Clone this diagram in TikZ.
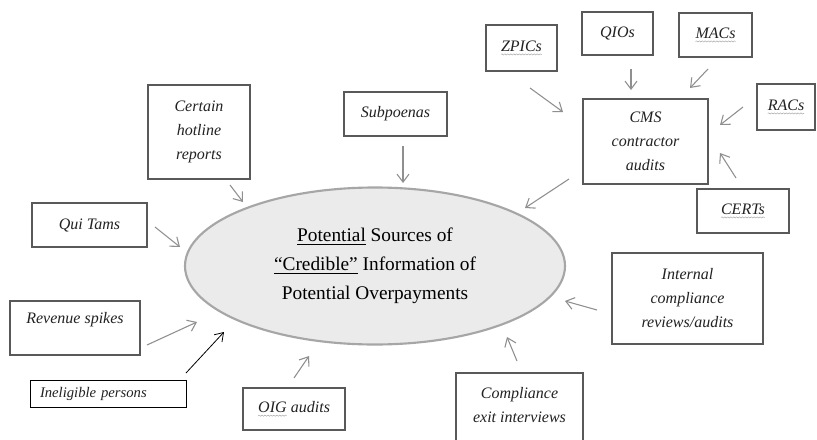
\documentclass[tikz,border=0pt]{standalone}
\usepackage{fontspec}
\setmainfont{Liberation Serif}
\usetikzlibrary{arrows.meta,shapes.geometric,decorations.pathmorphing}
\definecolor{boxline}{HTML}{595959}
\definecolor{ellfill}{HTML}{EBEBEB}
\definecolor{ellline}{HTML}{A6A6A6}
\definecolor{arrline}{HTML}{8F8F8F}
\definecolor{txt}{HTML}{222222}
\tikzset{
  squig/.style={decorate,decoration={snake,amplitude=0.45pt,segment length=2.2pt},draw=gray!70,line width=0.35pt},
}
\newcommand\sqg[1]{\tikz[baseline=(sqw.base),x=1cm,y=1cm]{\node[inner sep=0pt,outer sep=0pt,draw=none,minimum size=0pt](sqw){#1};\draw[squig] ([yshift=-2.3pt]sqw.base west) -- ([yshift=-2.3pt]sqw.base east);}}
\begin{document}
\begin{tikzpicture}[x=0.75pt,y=-0.75pt,
  srcbox/.style={draw=boxline,line width=2pt,fill=white,rectangle,inner sep=2pt,align=center,
     font=\fontsize{12pt}{18pt}\selectfont\itshape,text=txt},
  boxtxt/.style={inner sep=0pt,align=center,font=\fontsize{12pt}{18pt}\selectfont\itshape,text=txt},
  thinbox/.style={draw=black,line width=0.7pt,fill=white,rectangle,inner xsep=7.5pt,inner ysep=0pt,align=left,
     font=\fontsize{11pt}{13pt}\selectfont\itshape,text=txt},
  mainell/.style={ellipse,draw=ellline,line width=1.6pt,fill=ellfill,inner sep=0pt,align=center,
     font=\fontsize{14.5pt}{21.75pt}\selectfont,text=black},
  arr/.style={draw=arrline,line width=0.8pt,-{Straight Barb[length=6pt,width=9pt,line width=0.8pt]}},
  blackarr/.style={draw=black,line width=0.6pt,-{Straight Barb[length=6pt,width=8pt,line width=0.6pt]}},
]
\useasboundingbox[fill=white] (0,0) rectangle (817,439);

% central ellipse
\node[mainell,minimum width=285pt,minimum height=117.75pt] (core) at (375,266)
  {\underline{Potential} Sources of\\\underline{“Credible”} Information of\\Potential Overpayments};

% source boxes
\node[srcbox,minimum width=53.25pt,minimum height=34.5pt] (zpics) at (521.5,48) {\sqg{ZPICs}};
\node[srcbox,minimum width=53.25pt,minimum height=32.25pt] (qios) at (617.5,33.5) {QIOs};
\node[srcbox,minimum width=54.75pt,minimum height=33pt] (macs) at (715.5,35) {\sqg{MACs}};
\node[srcbox,minimum width=43.5pt,minimum height=34.5pt] (racs) at (786,107) {\sqg{RACs}};
\node[srcbox,minimum width=93.75pt,minimum height=63.75pt] (cms) at (645.5,141.5) {CMS\\contractor\\audits};
\node[srcbox,minimum width=69pt,minimum height=33pt] (certs) at (743,211) {\sqg{CERTs}};
\node[srcbox,minimum width=76.5pt,minimum height=70.5pt] (hotline) at (199,132) {Certain\\hotline\\reports};
\node[srcbox,minimum width=77.25pt,minimum height=33pt] (subp) at (395.5,114) {Subpoenas};
\node[srcbox,minimum width=86.25pt,minimum height=33pt] (quitams) at (89.5,225) {Qui Tams};
\node[srcbox,minimum width=97.5pt,minimum height=40.5pt] (revbox) at (75,328) {};
\node[boxtxt] (revtxt) at (75,320) {Revenue spikes};
\node[thinbox,minimum width=117pt,minimum height=20.25pt,text width=102pt] (inel) at (108,393.5) {Ineligible persons};
\node[srcbox,minimum width=76.5pt,minimum height=31.5pt] (oig) at (294,409) {\sqg{OIG} audits};
\node[srcbox,minimum width=113.25pt,minimum height=68.25pt] (internal) at (687.5,298.5) {Internal\\compliance\\reviews/audits};
\node[srcbox,minimum width=95.25pt,minimum height=72.75pt] (compbox) at (519.5,421.5) {};
\node[boxtxt] (comptxt) at (519.5,405) {Compliance\\exit interviews};

% arrow end points
\coordinate (zpA) at (530,88);   \coordinate (zpB) at (563,112);
\coordinate (qiA) at (631,69);   \coordinate (qiB) at (631,90);
\coordinate (maA) at (708,69);   \coordinate (maB) at (690,88);
\coordinate (raA) at (743,107);  \coordinate (raB) at (720,125);
\coordinate (ceA) at (736,178);  \coordinate (ceB) at (720,153);
\coordinate (cmA) at (569,179);  \coordinate (cmB) at (525,208);
\coordinate (hoA) at (230,185);  \coordinate (hoB) at (243,202);
\coordinate (suA) at (403,146);  \coordinate (suB) at (403,183);
\coordinate (quA) at (155,227);  \coordinate (quB) at (180,247);
\coordinate (reA) at (147,345);  \coordinate (reB) at (197,322);
\coordinate (inA) at (186,373);  \coordinate (inB) at (224,332);
\coordinate (oiA) at (294,378);  \coordinate (oiB) at (309,356);
\coordinate (coA) at (517,361);  \coordinate (coB) at (507,337);
\coordinate (itA) at (597,310);  \coordinate (itB) at (565,301);

\draw[arr] (zpA) -- (zpB);
\draw[arr] (qiA) -- (qiB);
\draw[arr] (maA) -- (maB);
\draw[arr] (raA) -- (raB);
\draw[arr] (ceA) -- (ceB);
\draw[arr] (cmA) -- (cmB);
\draw[arr] (hoA) -- (hoB);
\draw[arr] (suA) -- (suB);
\draw[arr] (quA) -- (quB);
\draw[arr] (reA) -- (reB);
\draw[blackarr] (inA) -- (inB);
\draw[arr] (oiA) -- (oiB);
\draw[arr] (coA) -- (coB);
\draw[arr] (itA) -- (itB);
\end{tikzpicture}
\end{document}
